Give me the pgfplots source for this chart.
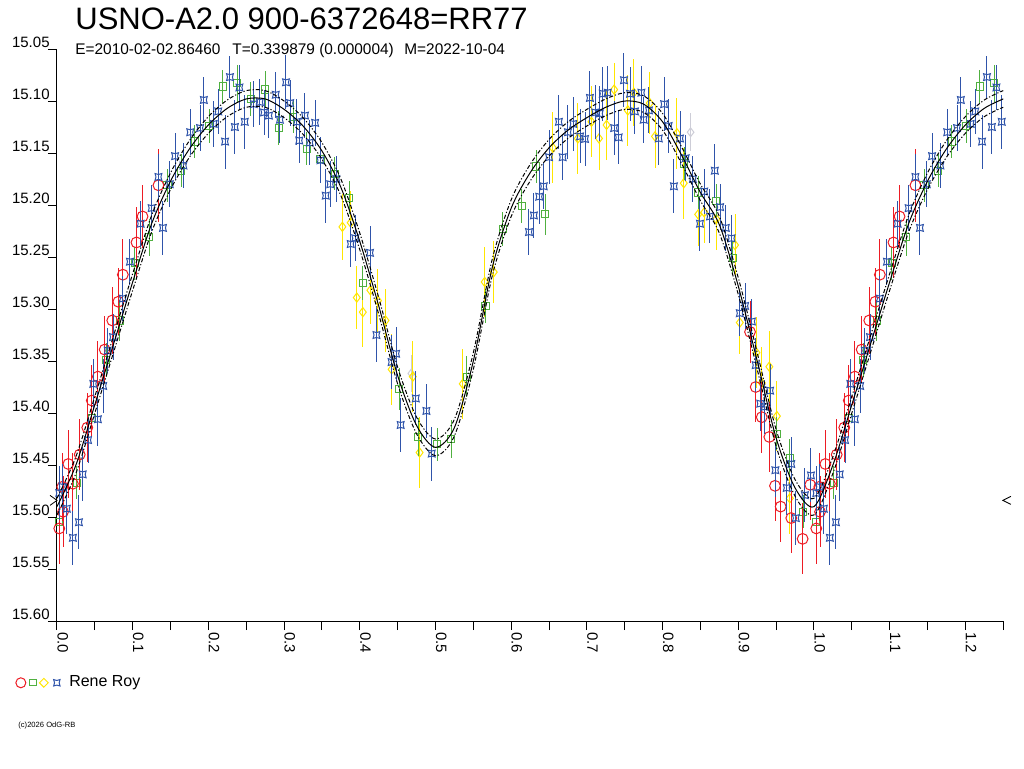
\documentclass[border=0pt]{standalone}
\usepackage{pgfplots}
\usepackage{pgfplotstable}
\pgfplotsset{compat=1.18}
\usepackage{fontspec}
\setmainfont{Liberation Sans}

\definecolor{rrred}{RGB}{237,28,36}
\definecolor{rrgreen}{RGB}{80,176,64}
\definecolor{rryellow}{RGB}{255,230,0}
\definecolor{rrblue}{RGB}{47,84,170}
\definecolor{rrgray}{RGB}{205,205,215}

% concave square, the blue symbol
\pgfdeclareplotmark{qstar}{%
  \pgfpathmoveto{\pgfqpoint{-\pgfplotmarksize}{-\pgfplotmarksize}}%
  \pgfpathquadraticcurveto{\pgfqpoint{0pt}{-0.45\pgfplotmarksize}}{\pgfqpoint{\pgfplotmarksize}{-\pgfplotmarksize}}%
  \pgfpathquadraticcurveto{\pgfqpoint{0.45\pgfplotmarksize}{0pt}}{\pgfqpoint{\pgfplotmarksize}{\pgfplotmarksize}}%
  \pgfpathquadraticcurveto{\pgfqpoint{0pt}{0.45\pgfplotmarksize}}{\pgfqpoint{-\pgfplotmarksize}{\pgfplotmarksize}}%
  \pgfpathquadraticcurveto{\pgfqpoint{-0.45\pgfplotmarksize}{0pt}}{\pgfqpoint{-\pgfplotmarksize}{-\pgfplotmarksize}}%
  \pgfpathclose\pgfusepathqstroke}

% model curve: phase, centre, upper, lower
\pgfplotstableread{
x c u l
0.000 15.490 15.482 15.498
0.025 15.450 15.442 15.458
0.050 15.392 15.384 15.400
0.075 15.333 15.325 15.341
0.100 15.274 15.266 15.282
0.125 15.218 15.210 15.226
0.150 15.177 15.169 15.185
0.175 15.146 15.138 15.154
0.200 15.123 15.115 15.131
0.225 15.107 15.099 15.115
0.250 15.098 15.090 15.106
0.275 15.098 15.090 15.106
0.300 15.108 15.100 15.116
0.325 15.124 15.116 15.132
0.350 15.148 15.140 15.156
0.375 15.183 15.175 15.191
0.400 15.235 15.227 15.243
0.425 15.297 15.289 15.305
0.450 15.364 15.356 15.372
0.475 15.412 15.404 15.420
0.500 15.433 15.425 15.441
0.525 15.414 15.406 15.422
0.550 15.350 15.342 15.358
0.575 15.260 15.252 15.268
0.600 15.203 15.195 15.211
0.625 15.169 15.161 15.177
0.650 15.145 15.137 15.153
0.675 15.128 15.120 15.136
0.700 15.116 15.108 15.124
0.725 15.106 15.098 15.114
0.750 15.100 15.092 15.108
0.775 15.103 15.095 15.111
0.800 15.120 15.112 15.128
0.825 15.152 15.144 15.160
0.850 15.188 15.180 15.196
0.875 15.219 15.211 15.227
0.900 15.278 15.270 15.286
0.925 15.350 15.342 15.358
0.950 15.424 15.416 15.432
0.975 15.472 15.464 15.480
1.000 15.490 15.482 15.498
1.025 15.450 15.442 15.458
1.050 15.392 15.384 15.400
1.075 15.333 15.325 15.341
1.100 15.274 15.266 15.282
1.125 15.218 15.210 15.226
1.150 15.177 15.169 15.185
1.175 15.146 15.138 15.154
1.200 15.123 15.115 15.131
1.225 15.107 15.099 15.115
1.250 15.098 15.090 15.106
}\modeltab

\pgfplotstableread{
x y e
0.003 15.511 0.034
0.007 15.471 0.033
0.008 15.495 0.034
0.015 15.449 0.033
0.021 15.468 0.030
0.030 15.440 0.034
0.040 15.414 0.033
0.046 15.388 0.034
0.054 15.365 0.034
0.063 15.339 0.032
0.073 15.311 0.032
0.081 15.293 0.032
0.087 15.267 0.034
0.105 15.236 0.034
0.113 15.211 0.030
0.134 15.181 0.035
0.9155 15.322 0.030
0.923 15.375 0.034
0.931 15.404 0.034
0.941 15.423 0.034
0.9485 15.470 0.034
0.956 15.490 0.034
0.970 15.501 0.034
0.985 15.521 0.034
0.995 15.469 0.034
1.003 15.511 0.034
1.007 15.471 0.033
1.008 15.495 0.034
1.015 15.449 0.033
1.021 15.468 0.030
1.030 15.440 0.034
1.040 15.414 0.033
1.046 15.388 0.034
1.054 15.365 0.034
1.063 15.339 0.032
1.073 15.311 0.032
1.081 15.293 0.032
1.087 15.267 0.034
1.105 15.236 0.034
1.113 15.211 0.030
1.134 15.181 0.035
}\redtab

\pgfplotstableread{
x y e
0.003 15.505 0.016
0.026 15.467 0.016
0.046 15.405 0.016
0.065 15.349 0.016
0.083 15.311 0.020
0.103 15.256 0.016
0.122 15.231 0.018
0.146 15.181 0.016
0.164 15.167 0.016
0.182 15.139 0.016
0.201 15.124 0.016
0.219 15.086 0.016
0.238 15.083 0.018
0.256 15.098 0.016
0.275 15.089 0.018
0.293 15.126 0.016
0.312 15.115 0.016
0.330 15.146 0.016
0.348 15.156 0.016
0.367 15.170 0.016
0.386 15.193 0.016
0.404 15.275 0.016
0.452 15.377 0.020
0.477 15.423 0.018
0.502 15.430 0.016
0.521 15.425 0.018
0.5415 15.365 0.020
0.566 15.297 0.016
0.589 15.223 0.016
0.614 15.201 0.016
0.633 15.163 0.016
0.645 15.209 0.020
0.8285 15.160 0.016
0.847 15.188 0.016
0.871 15.196 0.016
0.8926 15.251 0.016
0.951 15.420 0.016
0.968 15.443 0.018
0.986 15.495 0.016
1.003 15.505 0.016
1.026 15.467 0.016
1.046 15.405 0.016
1.065 15.349 0.016
1.083 15.311 0.020
1.103 15.256 0.016
1.122 15.231 0.018
1.146 15.181 0.016
1.164 15.167 0.016
1.182 15.139 0.016
1.201 15.124 0.016
1.219 15.086 0.016
1.238 15.083 0.018
}\greentab

\pgfplotstableread{
x y e
0.377 15.221 0.032
0.388 15.217 0.030
0.396 15.289 0.030
0.404 15.303 0.034
0.414 15.282 0.032
0.424 15.292 0.030
0.434 15.311 0.030
0.442 15.358 0.034
0.470 15.365 0.034
0.479 15.438 0.034
0.536 15.372 0.034
0.565 15.274 0.034
0.577 15.2645 0.030
0.655 15.145 0.034
0.688 15.136 0.034
0.706 15.120 0.034
0.716 15.136 0.030
0.726 15.123 0.034
0.736 15.089 0.026
0.754 15.109 0.034
0.762 15.092 0.032
0.783 15.102 0.030
0.790 15.134 0.030
0.819 15.131 0.034
0.828 15.179 0.034
0.847 15.209 0.030
0.855 15.207 0.030
0.871 15.2135 0.030
0.8957 15.2385 0.030
0.902 15.313 0.030
0.924 15.342 0.034
0.931 15.371 0.034
0.941 15.3555 0.034
0.951 15.403 0.034
0.968 15.482 0.034
}\yellowtab

\pgfplotstableread{
x y e
0.468 15.362 0.018
0.837 15.130 0.018
}\graytab

\pgfplotstableread{
x y e
0.003 15.477 0.026
0.007 15.471 0.022
0.013 15.492 0.024
0.021 15.520 0.026
0.029 15.505 0.026
0.034 15.459 0.026
0.041 15.426 0.022
0.048 15.372 0.024
0.054 15.406 0.026
0.061 15.374 0.026
0.067 15.340 0.022
0.074 15.327 0.022
0.087 15.290 0.022
0.0964 15.2545 0.022
0.1105 15.218 0.022
0.125 15.203 0.022
0.134 15.173 0.022
0.140 15.222 0.026
0.149 15.180 0.022
0.156 15.153 0.022
0.167 15.162 0.022
0.176 15.130 0.022
0.189 15.126 0.022
0.194 15.099 0.022
0.207 15.122 0.022
0.213 15.110 0.022
0.222 15.139 0.026
0.2285 15.077 0.020
0.235 15.125 0.026
0.241 15.087 0.022
0.248 15.120 0.026
0.260 15.103 0.022
0.268 15.101 0.022
0.2735 15.111 0.022
0.280 15.114 0.022
0.289 15.094 0.022
0.2945 15.118 0.022
0.3025 15.082 0.026
0.308 15.102 0.022
0.317 15.120 0.022
0.320 15.138 0.022
0.3276 15.114 0.022
0.334 15.140 0.022
0.341 15.121 0.022
0.348 15.157 0.022
0.355 15.191 0.026
0.361 15.180 0.022
0.369 15.175 0.022
0.388 15.2375 0.022
0.394 15.232 0.022
0.4135 15.246 0.026
0.422 15.325 0.026
0.442 15.351 0.026
0.448 15.343 0.026
0.454 15.4115 0.026
0.474 15.386 0.026
0.488 15.398 0.026
0.495 15.439 0.026
0.6235 15.226 0.022
0.630 15.210 0.022
0.637 15.192 0.026
0.643 15.182 0.022
0.650 15.154 0.026
0.663 15.120 0.026
0.668 15.154 0.022
0.675 15.130 0.026
0.682 15.122 0.026
0.691 15.134 0.026
0.6975 15.1365 0.026
0.704 15.097 0.026
0.711 15.111 0.026
0.717 15.112 0.026
0.721 15.093 0.026
0.7275 15.092 0.026
0.736 15.126 0.026
0.742 15.135 0.026
0.749 15.080 0.026
0.757 15.093 0.026
0.7635 15.110 0.022
0.772 15.092 0.026
0.775 15.118 0.022
0.782 15.109 0.022
0.795 15.136 0.026
0.802 15.103 0.026
0.808 15.124 0.026
0.815 15.182 0.026
0.823 15.136 0.026
0.8305 15.155 0.022
0.840 15.175 0.022
0.8494 15.218 0.026
0.855 15.187 0.022
0.8626 15.211 0.026
0.869 15.167 0.026
0.876 15.202 0.022
0.8835 15.222 0.022
0.891 15.232 0.022
0.902 15.304 0.022
0.909 15.297 0.022
0.918 15.312 0.022
0.923 15.354 0.026
0.929 15.391 0.026
0.935 15.394 0.026
0.942 15.3785 0.026
0.949 15.455 0.026
0.964 15.472 0.026
0.970 15.449 0.026
0.976 15.501 0.026
0.988 15.479 0.026
0.996 15.460 0.026
1.003 15.477 0.026
1.007 15.471 0.022
1.013 15.492 0.024
1.021 15.520 0.026
1.029 15.505 0.026
1.034 15.459 0.026
1.041 15.426 0.022
1.048 15.372 0.024
1.054 15.406 0.026
1.061 15.374 0.026
1.067 15.340 0.022
1.074 15.327 0.022
1.087 15.290 0.022
1.0964 15.2545 0.022
1.1105 15.218 0.022
1.125 15.203 0.022
1.134 15.173 0.022
1.140 15.222 0.026
1.149 15.180 0.022
1.156 15.153 0.022
1.167 15.162 0.022
1.176 15.130 0.022
1.189 15.126 0.022
1.194 15.099 0.022
1.207 15.122 0.022
1.213 15.110 0.022
1.222 15.139 0.026
1.2285 15.077 0.020
1.235 15.125 0.026
1.241 15.087 0.022
1.248 15.120 0.026
}\bluetab

\begin{document}
\begin{tikzpicture}
\fill[white] (0pt,0pt) rectangle (512pt,384pt);
\path[use as bounding box] (0pt,0pt) rectangle (512pt,384pt);

\node[anchor=base west, inner sep=0pt] at (37.5pt,369pt)
  {\fontsize{15.5}{18}\selectfont USNO-A2.0 900-6372648=RR77};
\node[anchor=base west, inner sep=0pt] at (37.5pt,356.5pt)
  {\fontsize{7.7}{9}\selectfont E=2010-02-02.86460};
\node[anchor=base west, inner sep=0pt] at (116pt,356.5pt)
  {\fontsize{7.7}{9}\selectfont T=0.339879 (0.000004)};
\node[anchor=base west, inner sep=0pt] at (202pt,356.5pt)
  {\fontsize{7.7}{9}\selectfont M=2022-10-04};
\node[anchor=base west, inner sep=0pt] at (9pt,20.5pt)
  {\fontsize{3.8}{5}\selectfont (c)2026 OdG-RB};

\begin{axis}[
  at={(28.5pt,73.5pt)}, anchor=south west,
  scale only axis, width=473.5pt, height=286pt,
  xmin=0, xmax=1.251, ymin=15.05, ymax=15.60,
  y dir=reverse,
  axis x line=bottom, axis y line=left,
  axis line style={-, line width=0.5pt, black},
  tick align=outside,
  major tick length=4.5pt, minor tick length=4.5pt,
  every tick/.style={black, line width=0.5pt},
  xtick={0,0.1,0.2,0.3,0.4,0.5,0.6,0.7,0.8,0.9,1.0,1.1,1.2},
  minor xtick={0.05,0.15,0.25,0.35,0.45,0.55,0.65,0.75,0.85,0.95,1.05,1.15,1.25},
  ytick={15.05,15.10,15.15,15.20,15.25,15.30,15.35,15.40,15.45,15.50,15.55,15.60},
  /pgf/number format/assume math mode=true,
  xticklabel style={font=\fontsize{7.5}{9}\selectfont, rotate=-90, anchor=south west,
    inner sep=0pt, xshift=1pt,
    /pgf/number format/.cd, fixed, fixed zerofill, precision=1},
  yticklabel style={font=\fontsize{7.5}{9}\selectfont, anchor=south east,
    inner sep=0pt, yshift=0.5pt, xshift=1pt,
    /pgf/number format/.cd, fixed, fixed zerofill, precision=2},
  legend style={at={(axis description cs:-0.0444,-0.108)}, anchor=west,
    draw=none, fill=none, inner sep=0pt, font=\fontsize{8}{10}\selectfont},
  legend cell align=left,
  clip mode=individual,
  error bars/error bar style={line width=0.5pt},
]
\addplot[forget plot, only marks, rrgray, mark=diamond, mark size=2.2pt, line width=0.5pt,
  error bars/.cd, y dir=both, y explicit, error mark=none]
  table[x=x, y=y, y error=e] {\graytab};
\addplot[forget plot, only marks, rryellow, mark=diamond, mark size=2.3pt, line width=0.5pt,
  error bars/.cd, y dir=both, y explicit, error mark=none]
  table[x=x, y=y, y error=e] {\yellowtab};
\addplot[forget plot, only marks, rrgreen, mark=square, mark size=1.8pt, line width=0.5pt,
  error bars/.cd, y dir=both, y explicit, error mark=none]
  table[x=x, y=y, y error=e] {\greentab};
\addplot[forget plot, only marks, rrred, mark=o, mark size=2.7pt, line width=0.5pt,
  error bars/.cd, y dir=both, y explicit, error mark=none]
  table[x=x, y=y, y error=e] {\redtab};
\addplot[forget plot, only marks, rrblue, mark=qstar, mark size=1.7pt, line width=0.5pt,
  error bars/.cd, y dir=both, y explicit, error mark=none]
  table[x=x, y=y, y error=e] {\bluetab};

\addplot[forget plot, black, line width=0.5pt, smooth, no marks] table[x=x, y=c] {\modeltab};
\addplot[forget plot, black, line width=0.5pt, smooth, no marks,
  dash pattern=on 2pt off 1pt on 0.6pt off 1pt] table[x=x, y=u] {\modeltab};
\addplot[forget plot, black, line width=0.5pt, smooth, no marks,
  dash pattern=on 2pt off 1pt on 0.6pt off 1pt] table[x=x, y=l] {\modeltab};

\addlegendimage{legend image code/.code={
  \draw[rrred, line width=0.5pt] (2.5pt,0pt) circle (2.5pt);
  \draw[rrgreen, line width=0.5pt] (6.9pt,-1.6pt) rectangle (10.1pt,1.6pt);
  \draw[rryellow, line width=0.5pt] (11.8pt,0pt) -- (14pt,2.2pt) -- (16.2pt,0pt) -- (14pt,-2.2pt) -- cycle;
  \begin{scope}[shift={(20.5pt,0pt)}]
    \pgfsetstrokecolor{rrblue}\pgfsetlinewidth{0.5pt}\pgfsetplotmarksize{1.6pt}\pgfuseplotmark{qstar}
  \end{scope}
  \path (24.5pt,0pt);
}}
\addlegendentry{Rene Roy}

\draw[black, line width=0.4pt] ([xshift=-3.5pt,yshift=2.5pt]axis cs:0,15.484)
  -- (axis cs:0,15.484) -- ([xshift=-3.5pt,yshift=-2.5pt]axis cs:0,15.484);
\draw[black, line width=0.4pt] ([xshift=4pt,yshift=2pt]axis cs:1.2495,15.484)
  -- (axis cs:1.2495,15.484) -- ([xshift=4pt,yshift=-2pt]axis cs:1.2495,15.484);
\end{axis}
\end{tikzpicture}
\end{document}
